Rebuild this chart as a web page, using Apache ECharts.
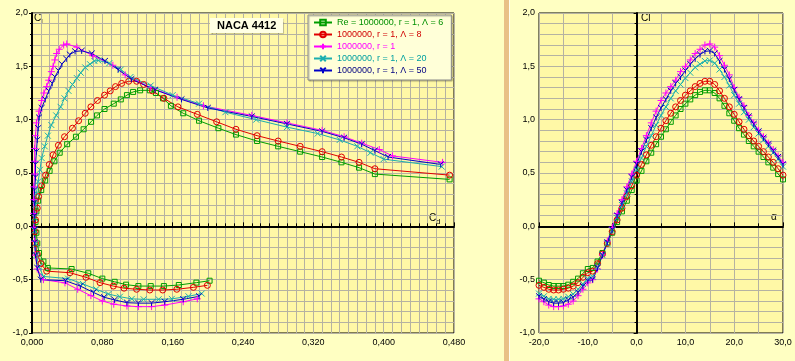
<!DOCTYPE html>
<html><head><meta charset="utf-8">
<script src="https://cdn.jsdelivr.net/npm/echarts@6/dist/echarts.min.js"></script>
<style>html,body{margin:0;padding:0;background:#FFFFC2;}#c{width:795px;height:361px;}</style>
</head><body><div id="c"></div>
<script>
// ---- data ----
const alpha = [-20,-19,-18,-17,-16,-15,-14,-13,-12,-11,-10,-9,-8,-7,-6,-5,-4,-3,-2,-1,0,1,2,3,4,5,6,7,8,9,10,11,12,13,14,15,16,17,18,19,20,21,22,23,24,25,26,27,28,29,30];

const seriesNames = ['Re = 1000000, r = 1, \u039B = 6','1000000, r = 1, \u039B = 8','1000000, r = 1','1000000, r = 1, \u039B = 20','1000000, r = 1, \u039B = 50'];

const clL6 = [-0.51,-0.528,-0.55,-0.56,-0.56,-0.56,-0.547,-0.52,-0.49,-0.44,-0.40,-0.39,-0.33,-0.25,-0.16,-0.06,0.04,0.14,0.24,0.34,0.43,0.52,0.61,0.69,0.77,0.84,0.91,0.98,1.04,1.10,1.15,1.19,1.23,1.26,1.275,1.275,1.25,1.20,1.13,1.06,0.99,0.92,0.86,0.80,0.75,0.70,0.65,0.60,0.55,0.49,0.44];
const cdL6 = [0.202,0.187,0.167,0.150,0.135,0.121,0.107,0.094,0.080,0.064,0.045,0.018,0.013,0.008,0.006,0.005,0.004,0.005,0.007,0.0105,0.015,0.020,0.0255,0.0315,0.040,0.050,0.0587,0.0672,0.074,0.0825,0.093,0.101,0.108,0.115,0.123,0.134,0.141,0.149,0.158,0.172,0.190,0.212,0.232,0.256,0.280,0.305,0.330,0.352,0.372,0.390,0.475];

const clL8 = [-0.553,-0.572,-0.59,-0.597,-0.597,-0.59,-0.58,-0.56,-0.528,-0.478,-0.435,-0.42,-0.35,-0.26,-0.16,-0.05,0.06,0.17,0.28,0.38,0.48,0.58,0.67,0.76,0.84,0.92,0.99,1.06,1.12,1.18,1.23,1.27,1.31,1.34,1.36,1.36,1.33,1.27,1.20,1.12,1.05,0.98,0.91,0.85,0.80,0.75,0.70,0.65,0.60,0.54,0.48];
const cdL8 = [0.1995,0.1836,0.1647,0.1487,0.134,0.119,0.1047,0.0925,0.0774,0.0614,0.0432,0.0167,0.010,0.006,0.004,0.0035,0.004,0.006,0.0075,0.011,0.0155,0.0197,0.024,0.030,0.037,0.046,0.053,0.0605,0.067,0.0745,0.0825,0.089,0.095,0.102,0.110,0.119,0.127,0.137,0.150,0.166,0.188,0.210,0.232,0.256,0.280,0.305,0.330,0.352,0.372,0.390,0.475];

const clInf = [-0.68,-0.707,-0.738,-0.753,-0.753,-0.747,-0.73,-0.70,-0.65,-0.59,-0.53,-0.50,-0.40,-0.27,-0.14,-0.01,0.12,0.25,0.37,0.49,0.61,0.73,0.85,0.97,1.08,1.18,1.25,1.31,1.37,1.45,1.50,1.56,1.62,1.66,1.70,1.71,1.68,1.60,1.51,1.42,1.30,1.21,1.13,1.04,0.97,0.90,0.84,0.78,0.72,0.66,0.60];
const cdInf = [0.188,0.172,0.151,0.136,0.121,0.108,0.093,0.080,0.067,0.052,0.0375,0.013,0.006,0.004,0.003,0.002,0.002,0.002,0.002,0.003,0.003,0.003,0.004,0.005,0.008,0.011,0.0135,0.0167,0.019,0.022,0.024,0.026,0.028,0.031,0.036,0.0395,0.051,0.069,0.092,0.106,0.135,0.165,0.195,0.250,0.290,0.330,0.355,0.375,0.395,0.410,0.467];

const clL20 = [-0.63,-0.656,-0.68,-0.684,-0.684,-0.68,-0.66,-0.635,-0.59,-0.54,-0.49,-0.47,-0.38,-0.27,-0.16,-0.04,0.08,0.20,0.31,0.42,0.53,0.64,0.75,0.85,0.95,1.04,1.12,1.20,1.27,1.33,1.39,1.44,1.49,1.52,1.55,1.555,1.53,1.47,1.40,1.32,1.23,1.15,1.07,1.00,0.93,0.87,0.81,0.75,0.69,0.63,0.56];
const cdL20 = [0.193,0.178,0.159,0.144,0.127,0.1135,0.100,0.087,0.073,0.058,0.041,0.013,0.008,0.005,0.004,0.003,0.003,0.004,0.005,0.007,0.009,0.011,0.0145,0.018,0.022,0.0275,0.0325,0.037,0.0415,0.046,0.051,0.0555,0.0605,0.066,0.071,0.0754,0.088,0.101,0.112,0.135,0.160,0.190,0.220,0.255,0.290,0.325,0.350,0.370,0.385,0.400,0.466];

const clL50 = [-0.656,-0.684,-0.707,-0.72,-0.72,-0.716,-0.69,-0.665,-0.62,-0.56,-0.51,-0.50,-0.39,-0.27,-0.15,-0.03,0.10,0.22,0.34,0.46,0.58,0.70,0.81,0.92,1.02,1.11,1.19,1.27,1.34,1.40,1.46,1.52,1.57,1.61,1.64,1.645,1.62,1.55,1.47,1.38,1.28,1.19,1.11,1.03,0.96,0.89,0.83,0.77,0.71,0.65,0.58];
const cdL50 = [0.190,0.172,0.151,0.136,0.121,0.108,0.094,0.082,0.070,0.055,0.038,0.0099,0.006,0.004,0.003,0.003,0.003,0.003,0.003,0.004,0.004,0.005,0.006,0.007,0.008,0.011,0.015,0.019,0.023,0.026,0.030,0.034,0.039,0.043,0.049,0.0565,0.068,0.083,0.098,0.113,0.140,0.170,0.200,0.250,0.290,0.330,0.355,0.375,0.390,0.405,0.465];

const cdTicks = {min: 0, max: 0.48, interval: 0.08};
const clTicks = {min: -1, max: 2, interval: 0.5};
const alphaTicks = {min: -20, max: 30, interval: 10};

// ---- styling ----
const FONT = 'Liberation Sans';
const lineColors = ['#009C00','#E00000','#FF00FF','#1AAFAF','#0000C8'];
const textColors = ['#009000','#D00000','#FF00FF','#00A0A0','#000080'];
const symbols = ['rect','circle','path://M0,5L10,5M5,0L5,10','path://M1,1L9,9M9,1L1,9','path://M1,1L5,5L9,1M5,5L5,10'];
const symbolSizes = [5,6,7,6,6];
const clSets = [clL6, clL8, clInf, clL20, clL50];
const cdSets = [cdL6, cdL8, cdInf, cdL20, cdL50];
const gridColor = '#B5B2A2';

const fmt1 = v => v.toFixed(1).replace('.', ',');
const fmt3 = v => v.toFixed(3).replace('.', ',');

function makeSeries(k, gi, xs) {
  return {
    type: 'line', name: seriesNames[k], xAxisIndex: gi, yAxisIndex: gi,
    data: clSets[k].map((c, i) => [xs[i], c]),
    symbol: symbols[k], symbolSize: symbolSizes[k],
    lineStyle: {color: lineColors[k], width: 1},
    itemStyle: {color: 'transparent', borderColor: lineColors[k], borderWidth: 1},
    emphasis: {disabled: true},
    animation: false
  };
}
const series = [];
for (let k = 0; k < 5; k++) series.push(makeSeries(k, 0, cdSets[k]));
for (let k = 0; k < 5; k++) series.push(makeSeries(k, 1, alpha));

function xAxisDef(gi, t, fmt, minorN) {
  return {
    type: 'value', gridIndex: gi, min: t.min, max: t.max, interval: t.interval,
    axisLine: {onZero: true, lineStyle: {color: '#000', width: 2}},
    axisTick: {show: true, inside: true, length: 4, lineStyle: {color: '#000'}},
    minorTick: {show: true, splitNumber: minorN, length: 3, lineStyle: {color: '#000'}},
    axisLabel: {formatter: fmt, fontSize: 9, fontFamily: FONT, color: '#000', margin: 5, showMinLabel: true, showMaxLabel: true},
    splitLine: {show: true, lineStyle: {color: gridColor, width: 1}},
    minorSplitLine: {show: true, lineStyle: {color: gridColor, width: 1}}
  };
}
function yAxisDef(gi) {
  return {
    type: 'value', gridIndex: gi, min: clTicks.min, max: clTicks.max, interval: clTicks.interval,
    axisLine: {onZero: true, lineStyle: {color: '#000', width: 2}},
    axisTick: {show: true, inside: false, length: 3, lineStyle: {color: '#000'}},
    minorTick: {show: true, splitNumber: 5, length: 2, lineStyle: {color: '#000'}},
    axisLabel: {formatter: fmt1, fontSize: 9, fontFamily: FONT, color: '#000', margin: 4, showMinLabel: true, showMaxLabel: true},
    splitLine: {show: true, lineStyle: {color: gridColor, width: 1}},
    minorSplitLine: {show: true, lineStyle: {color: gridColor, width: 1}}
  };
}

const legendRich = {};
textColors.forEach((c, k) => { legendRich['c' + k] = {color: c, fontSize: 9, fontFamily: FONT, lineHeight: 9}; });

const chart = echarts.init(document.getElementById('c'));
chart.setOption({
  animation: false,
  backgroundColor: '#FFFFC2',
  title: {
    text: 'NACA 4412', left: 210, top: 18, padding: [2, 7, 2, 7],
    backgroundColor: '#FFFFE4',
    shadowColor: 'rgba(0,0,0,0.35)', shadowOffsetX: 1, shadowOffsetY: 1, shadowBlur: 1,
    textStyle: {fontSize: 11, fontWeight: 'bold', color: '#000', fontFamily: FONT}
  },
  legend: {
    orient: 'vertical', left: 308, top: 15,
    data: seriesNames.slice(),
    formatter: name => '{c' + seriesNames.indexOf(name) + '|' + name + '}',
    itemWidth: 18, itemHeight: 7, itemGap: 3,
    padding: [3, 8, 5, 5],
    backgroundColor: '#FFFFD8', borderColor: '#8C8C8C', borderWidth: 1,
    shadowColor: 'rgba(0,0,0,0.3)', shadowOffsetX: 1, shadowOffsetY: 1, shadowBlur: 1,
    textStyle: {fontSize: 9, fontFamily: FONT, lineHeight: 9, rich: legendRich},
    selectedMode: false
  },
  grid: [
    {left: 32, top: 13, width: 422, height: 320, show: true, backgroundColor: '#FFF8A6', borderColor: '#000', borderWidth: 1},
    {left: 539, top: 13, width: 244, height: 320, show: true, backgroundColor: '#FFF8A6', borderColor: '#000', borderWidth: 1}
  ],
  xAxis: [xAxisDef(0, cdTicks, fmt3, 8), xAxisDef(1, alphaTicks, fmt1, 2)],
  yAxis: [yAxisDef(0), yAxisDef(1)],
  series: series,
  graphic: [
    {type: 'rect', shape: {x: 504, y: 0, width: 5, height: 361}, style: {fill: '#E9C187'}, silent: true},
    {type: 'rect', shape: {x: 509, y: 0, width: 1, height: 361}, style: {fill: '#FFFFEE'}, silent: true},
    {type: 'text', left: 34, top: 13, style: {text: 'C', font: '10px "Liberation Sans"', fill: '#000'}},
    {type: 'text', left: 41, top: 18, style: {text: 'l', font: '8px "Liberation Sans"', fill: '#000'}},
    {type: 'text', left: 429, top: 213, style: {text: 'C', font: '10px "Liberation Sans"', fill: '#000'}},
    {type: 'text', left: 436, top: 218, style: {text: 'd', font: '8px "Liberation Sans"', fill: '#000'}},
    {type: 'text', left: 641, top: 13, style: {text: 'Cl', font: '10px "Liberation Sans"', fill: '#000'}},
    {type: 'text', left: 771, top: 212, style: {text: '\u03B1', font: '10px "Liberation Sans"', fill: '#000'}}
  ]
});
</script>
</body></html>
